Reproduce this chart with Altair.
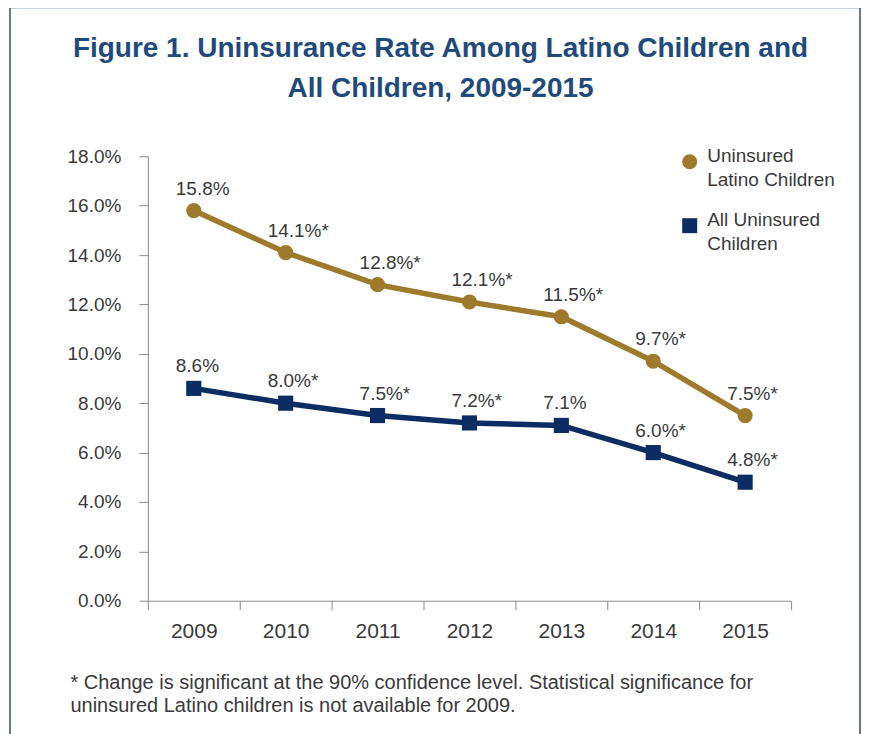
import altair as alt
import pandas as pd

years = ['2009', '2010', '2011', '2012', '2013', '2014', '2015']
latino = [15.8, 14.1, 12.8, 12.1, 11.5, 9.7, 7.5]
latino_labels = ['15.8%', '14.1%*', '12.8%*', '12.1%*', '11.5%*', '9.7%*', '7.5%*']
all_children = [8.6, 8.0, 7.5, 7.2, 7.1, 6.0, 4.8]
all_labels = ['8.6%', '8.0%*', '7.5%*', '7.2%*', '7.1%', '6.0%*', '4.8%*']
series_names = ['Uninsured Latino Children', 'All Uninsured Children']
y_ticks = [0, 2, 4, 6, 8, 10, 12, 14, 16, 18]
title_lines = ['Figure 1. Uninsurance Rate Among Latino Children and',
               'All Children, 2009-2015']
footnote_lines = ['* Change is significant at the 90% confidence level. Statistical significance for',
                  'uninsured Latino children is not available for 2009.']

GOLD = '#9e7a2c'
NAVY = '#0b2d63'
TEXT = '#3a3a3a'
FONT = 'Liberation Sans'

df = pd.DataFrame({
    'year': years * 2,
    'rate': latino + all_children,
    'label': latino_labels + all_labels,
    'series': [series_names[0]] * len(years) + [series_names[1]] * len(years),
})

x_enc = alt.X('year:O',
              scale=alt.Scale(type='band', paddingInner=0, paddingOuter=0),
              axis=alt.Axis(tickBand='extent', labelAngle=0, labelFontSize=21,
                            labelFont=FONT, labelColor=TEXT, labelPadding=11,
                            tickSize=9, tickColor='#8a8a8a', domainColor='#8a8a8a',
                            title=footnote_lines, titleAnchor='start', titleAlign='left',
                            titleX=-78, titleY=88, titleBaseline='alphabetic',
                            titleFontSize=20, titleFont=FONT, titleFontWeight='normal',
                            titleColor=TEXT, titleLineHeight=23))
y_enc = alt.Y('rate:Q',
              scale=alt.Scale(domain=[0, 18], nice=False, zero=True),
              axis=alt.Axis(values=y_ticks, labelExpr="format(datum.value, '.1f') + '%'",
                            title=None, grid=False, tickSize=9, labelPadding=18,
                            labelFontSize=19, labelFont=FONT, labelColor=TEXT,
                            tickColor='#8a8a8a', domainColor='#8a8a8a'))
color_scale = alt.Scale(domain=series_names, range=[GOLD, NAVY])
shape_scale = alt.Scale(domain=series_names, range=['circle', 'square'])

base = alt.Chart(df)

line_latino = base.transform_filter(alt.datum.series == series_names[0]).mark_line(
    strokeWidth=5.5, color=GOLD).encode(x=x_enc, y=y_enc)
line_all = base.transform_filter(alt.datum.series == series_names[1]).mark_line(
    strokeWidth=5.5, color=NAVY).encode(x=x_enc, y=y_enc)

legend = alt.Legend(title=None, orient='none', legendX=533, legendY=-4,
                    symbolSize=225, symbolStrokeWidth=0, symbolOpacity=1,
                    labelFontSize=19, labelFont=FONT, labelColor=TEXT,
                    labelBaseline='alphabetic', labelOffset=8, rowPadding=20,
                    padding=0, labelLimit=300,
                    labelExpr="datum.label == 'Uninsured Latino Children' ? ['Uninsured', 'Latino Children'] : ['All Uninsured', 'Children']")

points = base.mark_point(filled=True, size=230, opacity=1).encode(
    x=x_enc, y=y_enc,
    color=alt.Color('series:N', scale=color_scale, legend=legend),
    shape=alt.Shape('series:N', scale=shape_scale, legend=legend),
)

labels = base.mark_text(align='left', baseline='middle', dx=-18, dy=-22,
                        fontSize=19, font=FONT, color=TEXT).encode(
    x=x_enc, y=y_enc, text='label:N'
)

frame = alt.Chart(alt.Data(values=[{}])).mark_rect(
    fillOpacity=0, stroke='#2d4f80', strokeWidth=1.5
).encode(x=alt.value(-138), x2=alt.value(713), y=alt.value(-149), y2=alt.value(640))

chart = alt.layer(frame, line_latino, line_all, points, labels).properties(
    width=644, height=445,
    title=alt.TitleParams(text=title_lines, fontSize=28, font=FONT, fontWeight='bold',
                          color='#1f4a7e', anchor='middle', frame='group', dx=-29,
                          lineHeight=40, offset=-96),
    autosize=alt.AutoSizeParams(type='none'),
    padding={'left': 140, 'top': 148, 'right': 70, 'bottom': 150},
).configure(
    view=alt.ViewConfig(stroke=None),
    style={'guide-label': {'lineHeight': 24}},
)

chart.save('out.html', embed_options={'renderer': 'svg', 'actions': False})
